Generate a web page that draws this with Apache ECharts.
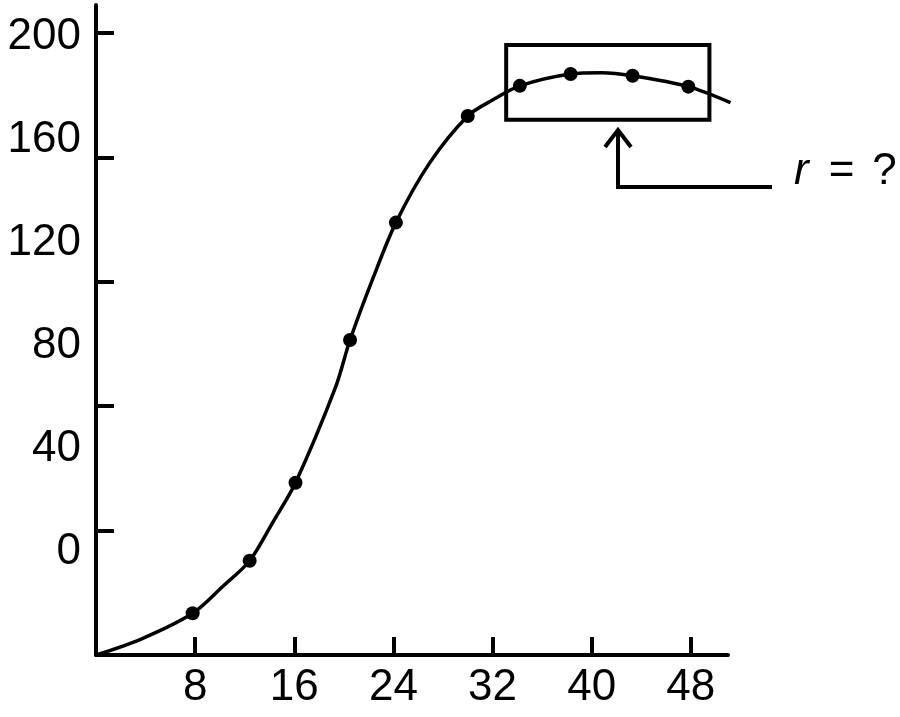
<!DOCTYPE html>
<html>
<head>
<meta charset="utf-8">
<script src="https://cdn.jsdelivr.net/npm/echarts@6/dist/echarts.min.js"></script>
<style>
html, body { margin: 0; padding: 0; background: #fff; }
#chart { width: 900px; height: 717px; }
</style>
</head>
<body>
<div id="chart"></div>
<script>
// measured dots on the growth curve
const dotX = [7.8, 12.4, 16.1, 20.5, 24.2, 30.0, 34.2, 38.3, 43.3, 47.8];
const dotY = [-23.8, -3.4, 26.9, 82.3, 127.9, 169.3, 181.0, 185.6, 184.9, 180.7];
const lineX = [0, 3.6, 10.2, 14.3, 19.3, 22.4, 26.9, 32.0, 40.8, 51.2];
const lineY = [-40, -33.9, -13.5, 11.8, 63.6, 106.9, 150.9, 175.5, 186.1, 174.5];
const xTicks = [8, 16, 24, 32, 40, 48];
const yLabels = [0, 40, 80, 120, 160, 200];
// tick marks on the y axis sit on their own (uneven) scale in the figure
const yTicks = [0, 50, 100, 150, 200];

const font = 'Liberation Sans';
const dots = dotX.map((x, i) => [x, dotY[i]]);
const curve = dots.concat(lineX.map((x, i) => [x, lineY[i]]))
    .sort((a, b) => a[0] - b[0]);

const chart = echarts.init(document.getElementById('chart'));
chart.setOption({
    animation: false,
    backgroundColor: '#fff',
    grid: { left: 96, right: 172, top: 5, bottom: 62 },
    xAxis: {
        type: 'value',
        min: 0,
        max: 51,
        axisLine: { onZero: false, lineStyle: { color: '#000', width: 4 } },
        axisTick: { customValues: xTicks, inside: true, length: 18, lineStyle: { color: '#000', width: 4 } },
        axisLabel: { customValues: xTicks, color: '#000', fontSize: 44, fontFamily: font, margin: 11 },
        splitLine: { show: false }
    },
    yAxis: [
        {
            type: 'value',
            min: -40,
            max: 212.4,
            axisLine: { show: true, onZero: false, lineStyle: { color: '#000', width: 4 } },
            axisTick: { show: false },
            axisLabel: { customValues: yLabels, color: '#000', fontSize: 44, fontFamily: font, margin: 15 },
            splitLine: { show: false }
        },
        {
            type: 'value',
            position: 'left',
            min: -50,
            max: 211.25,
            axisLine: { show: false },
            axisTick: { show: true, customValues: yTicks, inside: true, length: 18, lineStyle: { color: '#000', width: 4 } },
            axisLabel: { show: false },
            splitLine: { show: false }
        }
    ],
    series: [
        {
            type: 'line',
            data: curve,
            smooth: 0.3,
            clip: false,
            symbol: 'none',
            lineStyle: { color: '#000', width: 3.5 }
        },
        {
            type: 'scatter',
            data: dots,
            symbolSize: 14,
            itemStyle: { color: '#000', opacity: 1 },
            markArea: {
                silent: true,
                itemStyle: { color: 'rgba(0,0,0,0)', borderColor: '#000', borderWidth: 4 },
                data: [[{ coord: [33.1, 196.9] }, { coord: [49.5, 167.8] }]]
            }
        }
    ],
    graphic: [
        {
            type: 'polyline',
            shape: { points: [[772, 187], [618, 187], [618, 132]] },
            style: { stroke: '#000', lineWidth: 4, fill: null }
        },
        {
            type: 'polyline',
            shape: { points: [[605, 147], [618, 130], [631, 147]] },
            style: { stroke: '#000', lineWidth: 4, fill: null }
        },
        {
            type: 'text',
            x: 794,
            y: 194,
            style: {
                text: '{i|r}{e|=}{q|?}',
                fontSize: 44,
                fontFamily: font,
                fill: '#000',
                verticalAlign: 'bottom',
                rich: {
                    i: { fontStyle: 'italic', fontSize: 44, fontFamily: font },
                    e: { fontSize: 44, fontFamily: font, padding: [0, 18, 0, 20] },
                    q: { fontSize: 44, fontFamily: font }
                }
            }
        }
    ]
});
</script>
</body>
</html>
